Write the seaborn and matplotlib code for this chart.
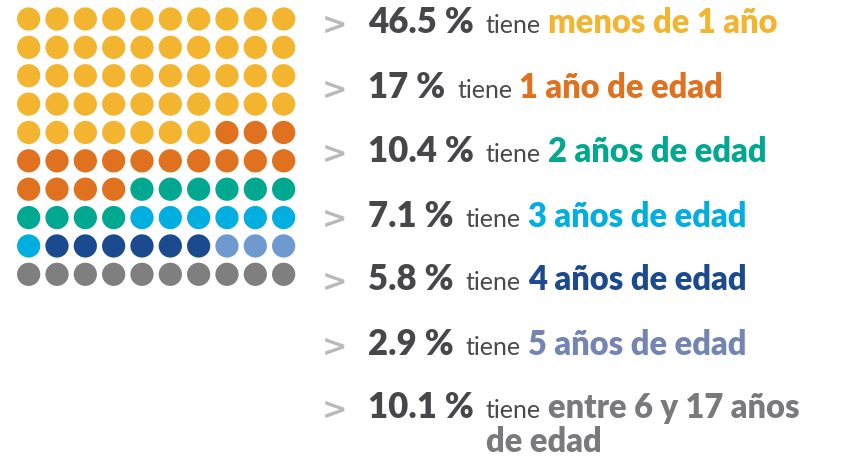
import matplotlib
matplotlib.use("Agg")
import matplotlib.pyplot as plt
import seaborn as sns
import pandas as pd

# ---- data ----
categories = ["menos de 1 año", "1 año de edad", "2 años de edad", "3 años de edad",
              "4 años de edad", "5 años de edad", "entre 6 y 17 años de edad"]
percent_labels = ["46.5 %", "17 %", "10.4 %", "7.1 %", "5.8 %", "2.9 %", "10.1 %"]
dot_counts = [47, 17, 10, 7, 6, 3, 10]
dot_colors = ["#F3B52F", "#E0711E", "#00A88F", "#00AEDF", "#1B4A8E", "#6F9AD0", "#7F7F7F"]
text_colors = ["#F3B52F", "#E0711E", "#00A88F", "#00AEDF", "#1B4A8E", "#7585B3", "#7A7A7C"]

sns.set_theme(style="white")
plt.rcParams["font.family"] = ["Lato", "DejaVu Sans"]

W, H, DPI = 844, 461, 100
fig = plt.figure(figsize=(W / DPI, H / DPI), dpi=DPI)
fig.patch.set_facecolor("white")

# ---- waffle ----
ncol = 10
cats, cols, rows = [], [], []
i = 0
for c, n in zip(categories, dot_counts):
    for _ in range(n):
        cats.append(c)
        cols.append(i % ncol)
        rows.append(i // ncol)
        i += 1
df = pd.DataFrame({"cat": cats, "col": cols, "row": rows})

ax = fig.add_axes([14.5 / W, 1 - 288.5 / H, 283.3 / W, 283.7 / H])
sns.scatterplot(data=df, x="col", y="row", hue="cat",
                palette=dict(zip(categories, dot_colors)),
                s=280, linewidth=0, legend=False, ax=ax)
ax.set_xlim(-0.5, 9.5)
ax.set_ylim(9.5, -0.5)
ax.set_axis_off()

# ---- text list ----
renderer = fig.canvas.get_renderer()
baselines = [33, 98, 162, 227, 290, 355, 418]
cont_baseline = 452


def put(xpx, ypx, s, **kw):
    t = fig.text(xpx / W, 1 - ypx / H, s, va="baseline", ha="left", **kw)
    bb = t.get_window_extent(renderer)
    return bb.x1


for k, (pct, cat, col) in enumerate(zip(percent_labels, categories, text_colors)):
    y = baselines[k]
    put(322, y + 1, ">", fontsize=22, fontweight="bold", color="#B9B9BC",
        family=["DejaVu Sans"])
    x = put(368, y, pct, fontsize=25, fontweight="heavy", color="#47474A")
    x_tiene = x + 12
    x = put(x_tiene, y, "tiene", fontsize=18, fontweight="normal", color="#4A4A4D")
    if k == len(categories) - 1:
        first, second = "entre 6 y 17 años", "de edad"
        put(x + 7, y, first, fontsize=23.5, fontweight="heavy", color=col)
        put(x_tiene, cont_baseline, second, fontsize=23.5, fontweight="heavy", color=col)
    else:
        put(x + 7, y, cat, fontsize=23.5, fontweight="heavy", color=col)

fig.savefig("out.png", dpi=DPI, facecolor="white")
